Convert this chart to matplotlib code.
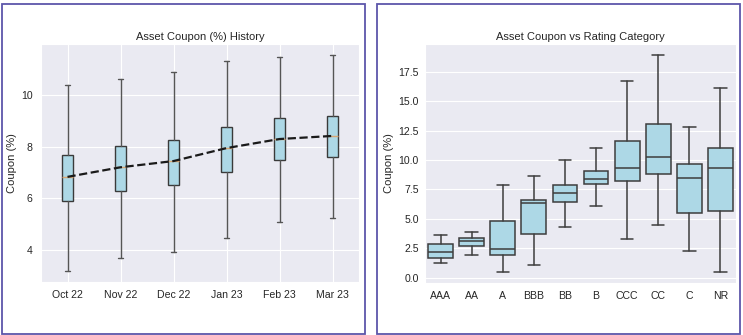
"""Asset coupon box plots: monthly history and by rating category."""

import matplotlib
matplotlib.use("Agg")
import matplotlib.pyplot as plt
from matplotlib.patches import Rectangle
import seaborn as sns

# Monthly coupon distribution (%)
months = ["Oct 22", "Nov 22", "Dec 22", "Jan 23", "Feb 23", "Mar 23"]
month_min = [3.19, 3.68, 3.92, 4.46, 5.08, 5.26]
month_q1 = [5.89, 6.27, 6.53, 7.03, 7.49, 7.60]
month_med = [6.83, 7.20, 7.44, 7.94, 8.29, 8.41]
month_q3 = [7.67, 8.02, 8.25, 8.75, 9.09, 9.16]
month_max = [10.39, 10.62, 10.87, 11.32, 11.47, 11.54]

# Coupon distribution by rating (%)
ratings = ["AAA", "AA", "A", "BBB", "BB", "B", "CCC", "CC", "C", "NR"]
rating_min = [1.22, 1.90, 0.48, 1.05, 4.34, 6.13, 3.26, 4.48, 2.24, 0.51]
rating_q1 = [1.67, 2.72, 1.93, 3.74, 6.47, 7.94, 8.20, 8.85, 5.48, 5.65]
rating_med = [2.21, 3.15, 2.41, 6.35, 7.18, 8.40, 9.33, 10.24, 8.48, 9.28]
rating_q3 = [2.87, 3.40, 4.82, 6.64, 7.91, 9.05, 11.63, 13.02, 9.67, 11.01]
rating_max = [3.63, 3.91, 7.91, 8.60, 9.99, 10.98, 16.68, 18.92, 12.82, 16.14]


def make_stats(lo, q1, med, q3, hi):
    return [
        {"whislo": a, "q1": b, "med": c, "q3": d, "whishi": e, "fliers": []}
        for a, b, c, d, e in zip(lo, q1, med, q3, hi)
    ]


sns.set_style("darkgrid")
plt.rcParams["font.family"] = ["Liberation Sans", "DejaVu Sans"]
plt.rcParams["text.color"] = "#262626"
plt.rcParams["xtick.color"] = "#262626"
plt.rcParams["ytick.color"] = "#262626"

W, H = 743, 335
fig = plt.figure(figsize=(W / 100, H / 100), dpi=100)
fig.patch.set_facecolor("white")

# panel frames
frame_color = "#5d56aa"
for x0, x1 in [(1.5, 364.5), (376.5, 740.0)]:
    fig.add_artist(Rectangle((x0 / W, 1.5 / H), (x1 - x0) / W, (331.5 - 1.5) / H,
                             transform=fig.transFigure, fill=False,
                             edgecolor=frame_color, linewidth=1.3))

# --- left: monthly history ---
ax1 = fig.add_axes([41 / W, (H - 282) / H, (359 - 41) / W, (282 - 44) / H])
pos = list(range(1, len(months) + 1))
ax1.bxp(make_stats(month_min, month_q1, month_med, month_q3, month_max),
        positions=pos, widths=0.2, patch_artist=True, showfliers=False,
        boxprops=dict(facecolor="#add8e6", edgecolor="#3a3a3a", linewidth=1.0),
        whiskerprops=dict(color="#555555", linewidth=1.0),
        capprops=dict(color="#555555", linewidth=1.0),
        medianprops=dict(color="#d9a774", linewidth=1.0))
ax1.plot(pos, month_med, linestyle="--", color="#1a1a1a", linewidth=1.6, zorder=5)
ax1.set_xticks(pos)
ax1.set_xticklabels(months)
ax1.set_xlim(0.5, len(months) + 0.5)
ax1.set_yticks([4, 6, 8, 10])
ax1.set_ylabel("Coupon (%)", fontsize=8, labelpad=3)
ax1.set_title("Asset Coupon (%) History", fontsize=8, pad=3)
ax1.tick_params(labelsize=7.6, pad=2.5)

# --- right: by rating category ---
ax2 = fig.add_axes([425 / W, (H - 283) / H, (736 - 425) / W, (283 - 44) / H])
pos2 = list(range(len(ratings)))
ax2.bxp(make_stats(rating_min, rating_q1, rating_med, rating_q3, rating_max),
        positions=pos2, widths=0.8, patch_artist=True, showfliers=False,
        boxprops=dict(facecolor="#add8e6", edgecolor="#3d3d3d", linewidth=1.1),
        whiskerprops=dict(color="#3d3d3d", linewidth=1.1),
        capprops=dict(color="#3d3d3d", linewidth=1.1),
        medianprops=dict(color="#3d3d3d", linewidth=1.1))
ax2.set_xticks(pos2)
ax2.set_xticklabels(ratings)
ax2.set_xlim(-0.5, len(ratings) - 0.5)
ax2.grid(False, axis="x")
ax2.set_yticks([0, 2.5, 5, 7.5, 10, 12.5, 15, 17.5])
ax2.set_yticklabels([f"{v:.1f}" for v in [0, 2.5, 5, 7.5, 10, 12.5, 15, 17.5]])
ax2.set_ylabel("Coupon (%)", fontsize=8, labelpad=3)
ax2.set_title("Asset Coupon vs Rating Category", fontsize=8, pad=3)
ax2.tick_params(labelsize=7.6, pad=2.5)
ax2.tick_params(axis="y", pad=1)

fig.savefig("out.png", dpi=100)
plt.close(fig)
